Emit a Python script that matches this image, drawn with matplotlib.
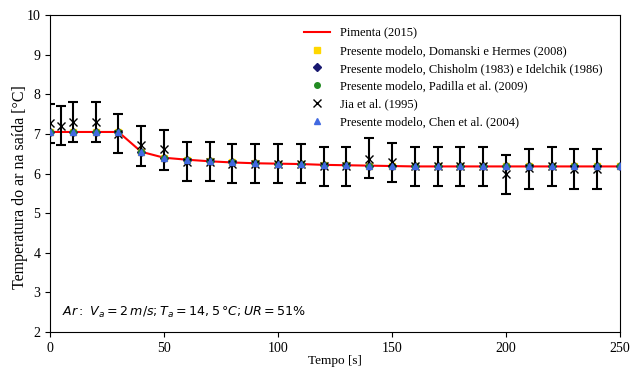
import matplotlib
matplotlib.use('Agg')
import matplotlib.pyplot as plt

# model times / values (all "Presente modelo" curves coincide with Pimenta)
t_model = [0, 10, 20, 30, 40, 50, 60, 70, 80, 90, 100, 110, 120, 130, 140,
           150, 160, 170, 180, 190, 200, 210, 220, 230, 240, 250]
T_model = [7.05, 7.05, 7.05, 7.05, 6.55, 6.40, 6.35, 6.31, 6.28, 6.26, 6.25,
           6.24, 6.22, 6.21, 6.20, 6.19, 6.18, 6.18, 6.18, 6.18, 6.18, 6.18,
           6.18, 6.18, 6.18, 6.18]

# Jia et al. (1995) experimental data
t_jia = [0, 5, 10, 20, 30, 40, 50, 60, 70, 80, 90, 100, 110, 120, 130, 140,
         150, 160, 170, 180, 190, 200, 210, 220, 230, 240]
T_jia = [7.27, 7.21, 7.31, 7.31, 7.00, 6.72, 6.61, 6.29, 6.29, 6.25, 6.25,
         6.25, 6.25, 6.18, 6.18, 6.38, 6.30, 6.18, 6.18, 6.18, 6.18, 5.98,
         6.13, 6.18, 6.12, 6.12]
err_jia = [0.49, 0.50, 0.50, 0.50, 0.50, 0.50, 0.50, 0.50, 0.50, 0.50, 0.50,
           0.50, 0.50, 0.50, 0.50, 0.50, 0.50, 0.50, 0.50, 0.50, 0.50, 0.50,
           0.50, 0.50, 0.50, 0.50]
jia_center = [7.26, 7.21, 7.30, 7.30, 7.01, 6.70, 6.60, 6.30, 6.30, 6.25, 6.25,
              6.25, 6.25, 6.18, 6.18, 6.39, 6.28, 6.18, 6.18, 6.18, 6.18, 5.98,
              6.12, 6.18, 6.12, 6.12]

plt.rcParams['font.family'] = 'Liberation Serif'
plt.rcParams['mathtext.fontset'] = 'dejavusans'

fig = plt.figure(figsize=(6.34, 3.69), dpi=100)
ax = fig.add_axes([0.0789, 0.1003, 0.899, 0.8587])

ax.plot(t_model, T_model, color='red', lw=1.5, label='Pimenta (2015)', zorder=2)
ax.plot(t_model, T_model, 's', color='gold', ms=4, ls='none',
        label='Presente modelo, Domanski e Hermes (2008)', zorder=3)
ax.plot(t_model, T_model, 'D', color='midnightblue', ms=4, ls='none',
        label='Presente modelo, Chisholm (1983) e Idelchik (1986)', zorder=3)
ax.plot(t_model, T_model, 'o', color='forestgreen', ms=4, ls='none',
        label='Presente modelo, Padilla et al. (2009)', zorder=3)
ax.errorbar(t_jia, jia_center, yerr=err_jia, fmt='none', ecolor='black',
            elinewidth=1.5, capsize=3.3, capthick=1.5, zorder=4)
ax.plot(t_jia, T_jia, 'x', color='black', ms=5.5, mew=1.0, ls='none',
        label='Jia et al. (1995)', zorder=5)
ax.plot(t_model, T_model, '^', color='royalblue', ms=5, ls='none',
        label='Presente modelo, Chen et al. (2004)', zorder=6)

ax.set_xlim(0, 250)
ax.set_ylim(2, 10)
ax.set_xticks([0, 50, 100, 150, 200, 250])
ax.set_yticks([2, 3, 4, 5, 6, 7, 8, 9, 10])
ax.tick_params(labelsize=10)
ax.set_xlabel('Tempo [s]', fontsize=9.5)
ax.xaxis.set_label_coords(0.5, -0.072)
ax.set_ylabel('Temperatura do ar na saída [°C]', fontsize=11.5)
ax.yaxis.set_label_coords(-0.039, 0.457)

ax.text(0.021, 0.061, r'$Ar:\ V_a = 2\,m/s; T_a = 14,5\,°C; UR = 51\%$',
        transform=ax.transAxes, fontsize=9.1, va='center')

ax.legend(loc='upper left', bbox_to_anchor=(0.437, 0.978), borderaxespad=0,
          frameon=False, fontsize=9, handlelength=2.1, labelspacing=0.47)

fig.savefig('out.png', dpi=100)
